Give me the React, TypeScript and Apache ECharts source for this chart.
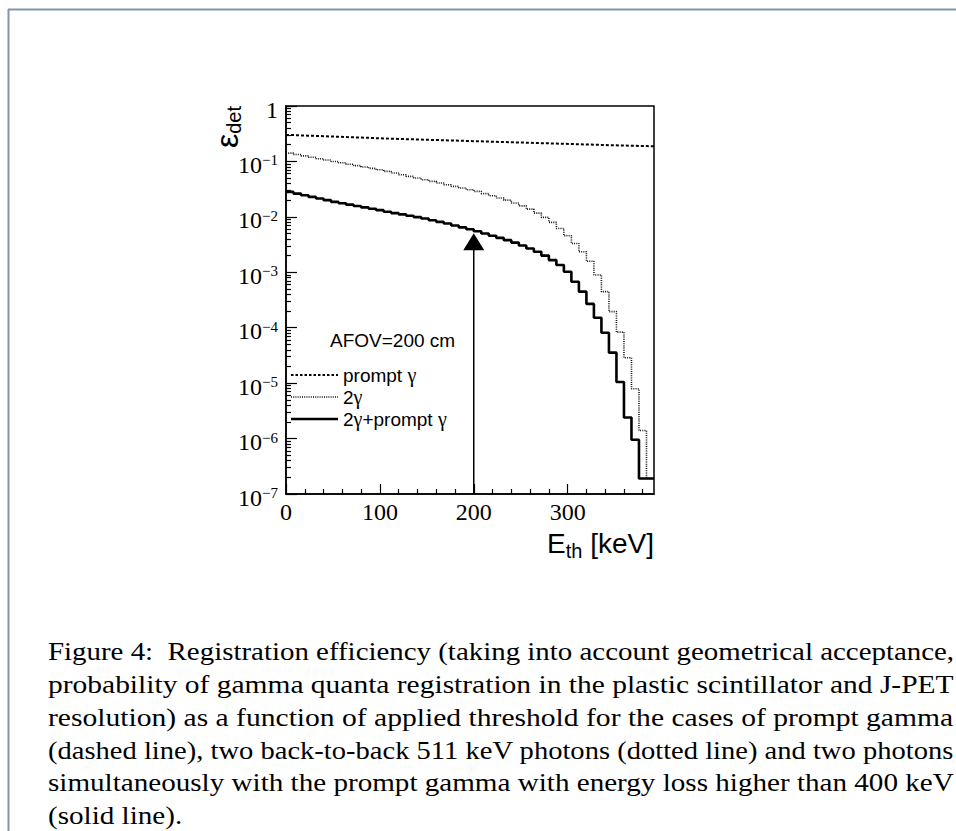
import React, { useEffect, useRef } from 'react';
import * as echarts from 'echarts';

// ---- data ----
const binLowEdges = [0, 8, 16, 24, 32, 40, 48, 56, 64, 72, 80, 88, 96, 104, 112, 120, 128, 136, 144, 152, 160, 168, 176, 184, 192, 200, 208, 216, 224, 232, 240, 248, 256, 264, 272, 280, 288, 296, 304, 312, 320, 328, 336, 344, 352, 360, 368, 376, 384];
const lastBinHighEdge = 392;

const promptGamma = [0.2985, 0.2951, 0.2917, 0.2884, 0.2851, 0.2818, 0.2786, 0.2754, 0.2723, 0.2692, 0.2661, 0.263, 0.26, 0.257, 0.2547, 0.2523, 0.25, 0.2477, 0.2455, 0.2432, 0.241, 0.2388, 0.2366, 0.2344, 0.2323, 0.2301, 0.228, 0.2259, 0.2239, 0.2218, 0.2198, 0.2178, 0.2158, 0.2138, 0.2118, 0.2099, 0.208, 0.2061, 0.2042, 0.2023, 0.2004, 0.1986, 0.1968, 0.195, 0.1932, 0.1919, 0.1905, 0.1892, 0.1879];

const twoGamma = [0.141, 0.133, 0.126, 0.119, 0.112, 0.106, 0.1, 0.0944, 0.0891, 0.0841, 0.0794, 0.075, 0.0708, 0.0661, 0.0617, 0.0575, 0.0537, 0.0501, 0.0468, 0.0437, 0.0407, 0.038, 0.0355, 0.0331, 0.0309, 0.0288, 0.0263, 0.024, 0.0219, 0.02, 0.0178, 0.0158, 0.0138, 0.0117, 0.00977, 0.00794, 0.00617, 0.00457, 0.00331, 0.00234, 0.00158, 0.000891, 0.000447, 0.000195, 0.0000832, 0.0000288, 0.0000079, 0.0000014, 0.00000019];

const twoGammaPrompt = [0.0282, 0.0263, 0.0245, 0.0229, 0.0214, 0.02, 0.0186, 0.0176, 0.0166, 0.0157, 0.0148, 0.014, 0.0132, 0.0124, 0.0117, 0.0111, 0.0105, 0.00989, 0.00933, 0.00871, 0.00813, 0.00759, 0.007, 0.00646, 0.00596, 0.0055, 0.00501, 0.00457, 0.00417, 0.0038, 0.00343, 0.00305, 0.00269, 0.00234, 0.002, 0.00166, 0.00135, 0.00102, 0.000676, 0.000447, 0.000269, 0.000151, 0.0000813, 0.0000355, 0.0000105, 0.0000024, 0.00000095, 0.00000019, 0.00000019];

const seriesNames = ['prompt γ', '2γ', '2γ+prompt γ'];
const legendLabelParts = [['prompt ', 'γ', ''], ['2', 'γ', ''], ['2', 'γ', '+prompt γ']];
const legendHeader = 'AFOV=200 cm';

const xMin = 0;
const xMax = 392;
const xMajorInterval = 100;
const xMinorTicks = [20, 40, 60, 80, 120, 140, 160, 180, 220, 240, 260, 280, 320, 340, 360, 380];
const yMin = 1e-7;
const yMax = 1;
const yDecades = [1e-7, 1e-6, 1e-5, 1e-4, 1e-3, 1e-2, 1e-1, 1];

const arrowX = 200;
const arrowBottom = 1e-7;
const arrowHead = 0.00356;

const captionLines = [
  'Figure 4:  Registration efficiency (taking into account geometrical acceptance,',
  'probability of gamma quanta registration in the plastic scintillator and J-PET',
  'resolution) as a function of applied threshold for the cases of prompt gamma',
  '(dashed line), two back-to-back 511 keV photons (dotted line) and two photons',
  'simultaneously with the prompt gamma with energy loss higher than 400 keV',
  '(solid line).',
];

// ---- helpers ----
const SERIF = '"Liberation Serif", "Times New Roman", serif';
const SANS = '"Liberation Sans", Arial, Helvetica, sans-serif';

function histogramPoints(values: number[]) {
  const pts = binLowEdges.map((x, i) => [x, values[i]]);
  pts.push([lastBinHighEdge, values[values.length - 1]]);
  return pts;
}

const yMinorTicks: number[] = [];
for (let i = 0; i < yDecades.length - 1; i++) {
  for (let m = 2; m <= 9; m++) yMinorTicks.push(m * yDecades[i]);
}

const GRID = { left: 286, top: 106, width: 368, height: 388 };

const CAPTION_FONT_SIZE = 25;
const CAPTION_LEFT = 48;
const CAPTION_RIGHT = 954;

function measureText(text: string, font: string): number {
  const ctx = document.createElement('canvas').getContext('2d');
  if (!ctx) return text.length * 10;
  ctx.font = font;
  return ctx.measureText(text).width;
}

function buildOption(): any {
  const captionFont = `${CAPTION_FONT_SIZE}px "Liberation Serif"`;
  const scales = captionLines.map((l) => (CAPTION_RIGHT - CAPTION_LEFT) / measureText(l, captionFont));
  const avgScale = scales.slice(0, 5).reduce((a, b) => a + b, 0) / 5;
  const captionGraphics = captionLines.map((line, i) => ({
    type: 'text',
    x: CAPTION_LEFT,
    y: 652 + i * 32.8,
    scaleX: i === captionLines.length - 1 ? avgScale : scales[i],
    style: {
      text: line,
      fontFamily: SERIF,
      fontSize: CAPTION_FONT_SIZE,
      lineHeight: 22,
      fill: '#000',
      align: 'left',
      verticalAlign: 'middle',
    },
  }));

  const legendRowsY = [375, 397, 419];
  const legendLineStyles = [
    { stroke: '#000', lineWidth: 2, lineDash: [2.5, 2] },
    { stroke: '#111', lineWidth: 1.5, lineDash: [1, 1.2] },
    { stroke: '#000', lineWidth: 2.6 },
  ];
  const legendGraphics: any[] = [];
  legendRowsY.forEach((y, i) => {
    legendGraphics.push({
      type: 'line',
      shape: { x1: 291, y1: y, x2: 338, y2: y },
      style: legendLineStyles[i],
    });
    const [a, g, b] = legendLabelParts[i];
    legendGraphics.push({
      type: 'text',
      x: 343,
      y,
      style: {
        text: `{t|${a}}{g|${g}}` + (b ? `{t|${b.replace(' γ', ' ')}}{g|γ}` : ''),
        align: 'left',
        verticalAlign: 'middle',
        rich: {
          t: { fontFamily: SANS, fontSize: 19, fill: '#000', color: '#000' },
          g: { fontFamily: SERIF, fontSize: 20, fill: '#000', color: '#000' },
        },
      },
    });
  });

  return {
    animation: false,
    backgroundColor: '#fff',
    grid: [
      { ...GRID, show: true, borderColor: '#000', borderWidth: 1.5, backgroundColor: 'transparent' },
      { ...GRID, show: false },
    ],
    xAxis: [
      {
        type: 'value',
        gridIndex: 0,
        min: xMin,
        max: xMax,
        interval: xMajorInterval,
        axisLine: { show: true, lineStyle: { color: '#000', width: 1.5 } },
        axisTick: { show: true, inside: true, length: 10, lineStyle: { color: '#000', width: 1.2 } },
        axisLabel: {
          show: true,
          showMaxLabel: false,
          margin: 6,
          fontFamily: SERIF,
          fontSize: 24,
          color: '#000',
        },
        splitLine: { show: false },
      },
      {
        type: 'value',
        gridIndex: 1,
        min: xMin,
        max: xMax,
        axisLine: { show: false },
        axisTick: { show: true, inside: true, length: 5, customValues: xMinorTicks, lineStyle: { color: '#000', width: 1.2 } },
        axisLabel: { show: false },
        splitLine: { show: false },
      },
    ],
    yAxis: [
      {
        type: 'log',
        gridIndex: 0,
        logBase: 10,
        min: yMin,
        max: yMax,
        splitNumber: 7,
        axisLine: { show: true, lineStyle: { color: '#000', width: 1.5 } },
        axisTick: { show: true, inside: true, length: 11, lineStyle: { color: '#000', width: 1.2 } },
        axisLabel: {
          show: true,
          margin: 8,
          padding: [7, 0, 0, 0],
          formatter: (v: number) => {
            const e = Math.round(Math.log10(v));
            if (e === 0) return '{b|1}';
            return '{b|10}{s|−' + (-e) + '}';
          },
          rich: {
            b: { fontFamily: SERIF, fontSize: 24, color: '#000' },
            s: { fontFamily: SERIF, fontSize: 15, color: '#000', verticalAlign: 'top' },
          },
        },
        splitLine: { show: false },
      },
      {
        type: 'log',
        gridIndex: 1,
        logBase: 10,
        min: yMin,
        max: yMax,
        axisLine: { show: false },
        axisTick: { show: true, inside: true, length: 5, customValues: yMinorTicks, lineStyle: { color: '#000', width: 1.2 } },
        axisLabel: { show: false },
        splitLine: { show: false },
      },
    ],
    series: [
      {
        name: seriesNames[0],
        type: 'line',
        step: 'end',
        xAxisIndex: 0,
        yAxisIndex: 0,
        data: histogramPoints(promptGamma),
        symbol: 'none',
        lineStyle: { color: '#000', width: 2, type: [3, 2] },
        itemStyle: { color: '#000' },
      },
      {
        name: seriesNames[1],
        type: 'line',
        step: 'end',
        xAxisIndex: 0,
        yAxisIndex: 0,
        data: histogramPoints(twoGamma),
        symbol: 'none',
        lineStyle: { color: '#111', width: 1.6, type: [1, 1.2] },
        itemStyle: { color: '#111' },
      },
      {
        name: seriesNames[2],
        type: 'line',
        step: 'end',
        xAxisIndex: 0,
        yAxisIndex: 0,
        data: histogramPoints(twoGammaPrompt),
        symbol: 'none',
        lineStyle: { color: '#000', width: 2.6 },
        itemStyle: { color: '#000' },
      },
      {
        name: 'threshold',
        type: 'line',
        xAxisIndex: 0,
        yAxisIndex: 0,
        silent: true,
        showSymbol: true,
        symbol: 'triangle',
        data: [
          { value: [arrowX, arrowBottom], symbol: 'none' },
          { value: [arrowX, arrowHead], symbol: 'triangle', symbolSize: [21, 17] },
        ],
        lineStyle: { color: '#000', width: 1.5 },
        itemStyle: { color: '#000', borderWidth: 0 },
        z: 5,
      },
    ],
    graphic: [
      { type: 'line', shape: { x1: 8, y1: 9.5, x2: 956, y2: 9.5 }, style: { stroke: '#7f95ad', lineWidth: 2 } },
      { type: 'line', shape: { x1: 8.5, y1: 9, x2: 8.5, y2: 831 }, style: { stroke: '#7f95ad', lineWidth: 2 } },
      {
        type: 'text',
        x: 330,
        y: 340,
        style: { text: legendHeader, fontFamily: SANS, fontSize: 19, fill: '#000', align: 'left', verticalAlign: 'middle' },
      },
      ...legendGraphics,
      {
        type: 'text',
        x: 227,
        y: 106,
        rotation: Math.PI / 2,
        style: {
          text: '{e|ε}{d|det}',
          align: 'right',
          verticalAlign: 'middle',
          rich: {
            e: { fontFamily: SANS, fontSize: 32, fill: '#000', color: '#000' },
            d: { fontFamily: SANS, fontSize: 20, fill: '#000', color: '#000', padding: [14, 0, 0, 0] },
          },
        },
      },
      {
        type: 'text',
        x: 654,
        y: 543,
        style: {
          text: '{e|E}{s|th}{e| [keV]}',
          align: 'right',
          verticalAlign: 'middle',
          rich: {
            e: { fontFamily: SANS, fontSize: 28, fill: '#000', color: '#000' },
            s: { fontFamily: SANS, fontSize: 20, fill: '#000', color: '#000', padding: [16, 0, 0, 0] },
          },
        },
      },
      ...captionGraphics,
    ],
  };
}

export default function App() {
  const ref = useRef<HTMLDivElement>(null);
  useEffect(() => {
    if (!ref.current) return;
    const chart = echarts.init(ref.current, null, { renderer: 'svg' });
    chart.setOption(buildOption());
    return () => chart.dispose();
  }, []);
  return (
    <div
      ref={ref}
      style={{ position: 'absolute', left: 0, top: 0, width: 956, height: 831, background: '#fff' }}
    />
  );
}
